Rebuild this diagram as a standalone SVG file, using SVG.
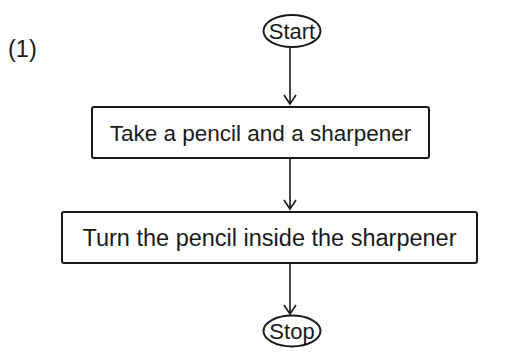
<svg xmlns="http://www.w3.org/2000/svg" width="520" height="356" viewBox="0 0 520 356">
<style>
text{font-family:"Liberation Sans",Arial,sans-serif;font-size:22.5px;fill:#1a1a1a}
.t{font-size:22px}
.s{fill:none;stroke:#1a1a1a;stroke-width:2}
.c{fill:none;stroke:#1a1a1a;stroke-width:1.6}
</style>
<rect width="520" height="356" fill="#fff"/>
<text x="8" y="57" style="font-size:23.5px">(1)</text>
<g id="start">
<ellipse class="s" cx="292" cy="31" rx="28.5" ry="16"/>
<text class="t" x="292" y="39" text-anchor="middle">Start</text>
</g>
<g id="step1">
<rect class="s" x="92" y="107" width="337" height="51" rx="2"/>
<text x="260.5" y="141" text-anchor="middle">Take a pencil and a sharpener</text>
</g>
<g id="step2">
<rect class="s" x="62" y="212" width="415" height="51" rx="2"/>
<text x="269.5" y="246" text-anchor="middle" style="font-size:23.5px">Turn the pencil inside the sharpener</text>
</g>
<g id="stop">
<ellipse class="s" cx="292" cy="331" rx="28.5" ry="15.5"/>
<text class="t" x="292" y="339" text-anchor="middle">Stop</text>
</g>
<g id="connectors">
<path class="c" d="M290 47V104M284 95L290 104L296 95"/>
<path class="c" d="M290 158V209M284 200L290 209L296 200"/>
<path class="c" d="M290 263V314M284 305L290 314L296 305"/>
</g>
</svg>
